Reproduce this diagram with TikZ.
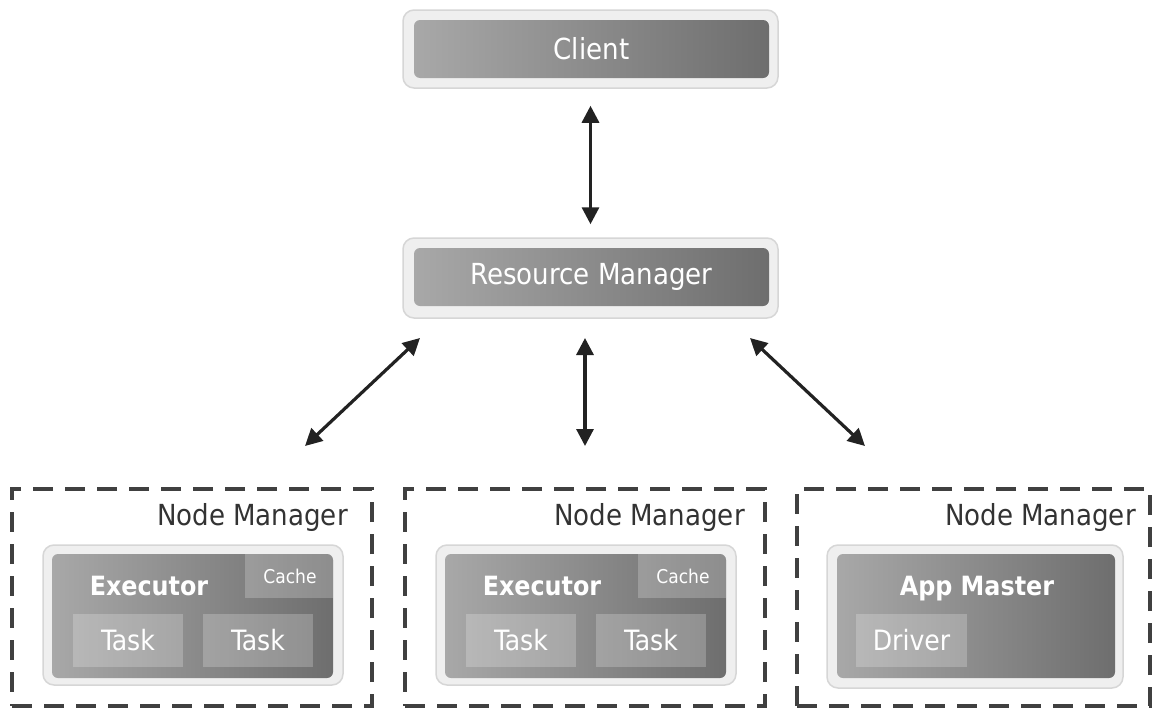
\documentclass[tikz,border=0pt]{standalone}
\usepackage{fontspec}
\setmainfont{DejaVu Sans Condensed}
\usetikzlibrary{arrows.meta}
\definecolor{outerfill}{HTML}{EFEFEF}
\definecolor{outerdraw}{HTML}{D6D6D6}
\definecolor{gradL}{HTML}{A8A8A8}
\definecolor{gradR}{HTML}{6E6E6E}
\definecolor{dashcol}{HTML}{404040}
\definecolor{arrowcol}{HTML}{222222}
\definecolor{nmtext}{HTML}{333333}
\tikzset{
  outerbox/.style={draw=outerdraw, line width=1.5pt, fill=outerfill, rounded corners=11pt, inner sep=0pt},
  innerbox/.style={rounded corners=6pt, left color=gradL, right color=gradR, inner sep=0pt, text=white},
  subbox/.style={fill=white, fill opacity=0.22, text opacity=1, text=white, inner sep=0pt},
  nmbox/.style={draw=dashcol, line width=4pt, dash pattern=on 20pt off 12pt, inner sep=0pt},
  nmlabel/.style={text=nmtext, font=\fontsize{29}{32}\selectfont, anchor=east, inner sep=0pt},
  biarrow/.style={{Triangle[length=17pt,width=17pt]}-{Triangle[length=17pt,width=17pt]}, line width=3.2pt, draw=arrowcol},
  bigtext/.style={font=\fontsize{29}{32}\selectfont},
  boldtext/.style={font=\fontsize{26.5}{30}\selectfont\bfseries, text=white, inner sep=0pt, anchor=base},
  tasktext/.style={font=\fontsize{28}{30}\selectfont},
  cachetext/.style={font=\fontsize{19}{22}\selectfont}
}
\begin{document}
\begin{tikzpicture}[x=1pt,y=-1pt]
\useasboundingbox (0,0) rectangle (1156,712);
% Client
\node[outerbox, minimum width=375pt, minimum height=78pt] (cliento) at (590.5,49) {};
\node[innerbox, minimum width=355pt, minimum height=58pt, bigtext] (client) at (591.5,49) {Client};
% Resource Manager
\node[outerbox, minimum width=375pt, minimum height=80pt] (rmo) at (590.5,278) {};
\node[innerbox, minimum width=355pt, minimum height=58pt, bigtext] (rm) at (591.5,277) {Resource Manager};
% Node manager boxes
\node[nmbox, minimum width=360pt, minimum height=217pt] (nm1) at (192,597.5) {};
\node[nmbox, minimum width=360pt, minimum height=217pt] (nm2) at (585,597.5) {};
\node[nmbox, minimum width=353pt, minimum height=217pt] (nm3) at (973.5,597.5) {};
\node[nmlabel] (nml1) at (348,517) {Node Manager};
\node[nmlabel] (nml2) at (745,517) {Node Manager};
\node[nmlabel] (nml3) at (1136,517) {Node Manager};
% Executor 1
\node[outerbox, minimum width=300pt, minimum height=140pt] (ex1o) at (193,615) {};
\node[innerbox, minimum width=281pt, minimum height=124pt] (ex1) at (192.5,616) {};
\begin{scope}
\clip[rounded corners=6pt] (52,554) rectangle (333,678);
\node[subbox, minimum width=90pt, minimum height=44pt, cachetext] (cache1) at (290,576) {Cache};
\end{scope}
\node[boldtext] (ex1t) at (149,595) {Executor};
\node[subbox, minimum width=110pt, minimum height=53pt, tasktext] (t11) at (128,640.5) {Task};
\node[subbox, minimum width=110pt, minimum height=53pt, tasktext] (t12) at (258,640.5) {Task};
% Executor 2
\node[outerbox, minimum width=300pt, minimum height=140pt] (ex2o) at (586,615) {};
\node[innerbox, minimum width=281pt, minimum height=124pt] (ex2) at (585.5,616) {};
\begin{scope}
\clip[rounded corners=6pt] (445,554) rectangle (726,678);
\node[subbox, minimum width=90pt, minimum height=44pt, cachetext] (cache2) at (683,576) {Cache};
\end{scope}
\node[boldtext] (ex2t) at (542,595) {Executor};
\node[subbox, minimum width=110pt, minimum height=53pt, tasktext] (t21) at (521,640.5) {Task};
\node[subbox, minimum width=110pt, minimum height=53pt, tasktext] (t22) at (651,640.5) {Task};
% App Master
\node[outerbox, minimum width=296pt, minimum height=143pt] (amo) at (975,616.5) {};
\node[innerbox, minimum width=278pt, minimum height=124pt] (am) at (976,616) {};
\node[boldtext] (amt) at (977,595) {App Master};
\node[subbox, minimum width=111pt, minimum height=53pt, tasktext] (drv) at (911.5,640.5) {Driver};
% Arrows
\draw[biarrow, shorten <=17pt, shorten >=13pt] (cliento.south) -- (rmo.north);
\coordinate (a1s) at (420,338);
\coordinate (a1e) at (305,446);
\coordinate (a2s) at (585,338);
\coordinate (a2e) at (585,446);
\coordinate (a3s) at (750,338);
\coordinate (a3e) at (865,446);
\draw[biarrow] (a1s) -- (a1e);
\draw[biarrow] (a2s) -- (a2e);
\draw[biarrow] (a3s) -- (a3e);
\end{tikzpicture}
\end{document}
